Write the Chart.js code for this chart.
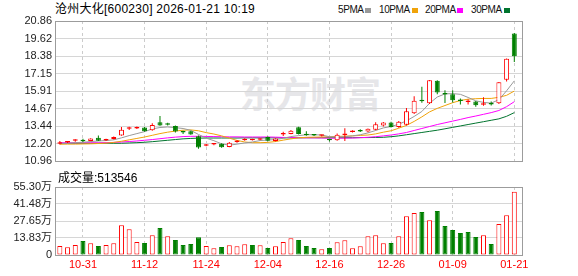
<!DOCTYPE html>
<html>
<head>
<meta charset="utf-8">
<script src="https://cdn.jsdelivr.net/npm/chart.js@4.4.1/dist/chart.umd.min.js"></script>
<style>
  html, body { margin: 0; padding: 0; background: #fff; }
  #wrap { position: relative; width: 578px; height: 276px; overflow: hidden;
          font-family: "Liberation Sans", "Noto Sans CJK SC", sans-serif; }
  .txt { position: absolute; white-space: nowrap; color: #000; }
  #title { left: 55px; top: 2px; font-size: 12px; line-height: 14px; letter-spacing: 0.25px; }
  .lg { position: absolute; top: 4px; font-size: 10px; line-height: 12px; color: #111; letter-spacing: -0.4px; }
  .sq { position: absolute; top: 8px; width: 6px; height: 5px; }
  #mark { left: 240px; top: 72px; font-size: 36px; line-height: 40px; font-weight: bold;
          color: #e6e6e9; font-family: "Noto Sans CJK SC", sans-serif; letter-spacing: -1px; }
  #volLabel { left: 58px; top: 171px; font-size: 12px; line-height: 14px; }
  canvas { position: absolute; left: 0; }
</style>
</head>
<body>
<div id="wrap">
  <div id="mark" class="txt">东方财富</div>
  <div id="title" class="txt">沧州大化[600230] 2026-01-21 10:19</div>
  <span class="lg" style="left:338px">5PMA</span><span class="sq" style="left:365px;background:#999999"></span>
  <span class="lg" style="left:379px">10PMA</span><span class="sq" style="left:412px;background:#f0a30a"></span>
  <span class="lg" style="left:425px">20PMA</span><span class="sq" style="left:457px;background:#ff00ff"></span>
  <span class="lg" style="left:471px">30PMA</span><span class="sq" style="left:504px;background:#00742e"></span>
  <canvas id="price" width="578" height="172" style="top:0"></canvas>
  <div id="volLabel" class="txt">成交量:513546</div>
  <canvas id="volume" width="578" height="104" style="top:172px"></canvas>
</div>
<script>
// trading days shown on the chart
const dates = ['10-28','10-29','10-30','10-31','11-03','11-04','11-05','11-06','11-07','11-10',
  '11-11','11-12','11-13','11-14','11-17','11-18','11-19','11-20','11-21','11-24',
  '11-25','11-26','11-27','11-28','12-01','12-02','12-03','12-04','12-05','12-08',
  '12-09','12-10','12-11','12-12','12-15','12-16','12-17','12-18','12-19','12-22',
  '12-23','12-24','12-25','12-26','12-29','12-30','12-31','01-05','01-06','01-07',
  '01-08','01-09','01-12','01-13','01-14','01-15','01-16','01-19','01-20','01-21'];
const dateLabels = ['10-31','11-12','11-24','12-04','12-16','12-26','01-09','01-21'];

const opens = [12.20,12.30,12.42,12.49,12.40,12.62,12.44,12.54,12.79,13.26,
  13.28,13.35,13.15,13.72,13.65,13.45,13.03,13.08,12.74,12.06,
  12.15,12.21,11.98,12.33,12.46,12.46,12.48,12.68,12.39,12.85,
  12.90,13.37,12.83,12.82,12.77,12.48,12.45,12.83,13.03,13.18,
  13.07,13.19,13.50,13.71,13.38,13.55,14.35,15.25,15.06,16.65,
  15.72,15.70,15.26,15.15,15.18,14.96,15.02,15.06,16.72,19.97];
const highs = [12.40,12.38,12.52,12.55,12.60,12.78,12.55,12.72,13.38,13.40,
  13.42,13.38,13.65,14.17,13.68,13.50,13.12,13.12,12.78,12.18,
  12.25,12.24,12.32,12.45,12.60,12.55,12.60,12.72,12.60,13.05,
  13.18,13.40,13.08,12.86,12.84,12.55,12.92,13.30,13.15,13.22,
  13.28,13.72,13.74,13.76,13.80,14.72,15.55,16.22,16.70,16.68,
  15.98,15.98,15.40,15.35,15.22,15.48,15.18,16.56,18.22,20.02];
const lows = [12.16,12.26,12.35,12.33,12.38,12.40,12.40,12.50,12.77,13.18,
  13.25,13.05,13.12,13.48,13.50,13.00,12.90,12.84,11.86,12.02,
  12.10,11.92,11.95,12.28,12.42,12.43,12.45,12.38,12.36,12.75,
  12.88,12.86,12.76,12.75,12.72,12.36,12.42,12.40,13.00,13.03,
  13.02,13.15,13.42,13.35,13.34,13.50,14.30,15.10,15.00,15.70,
  15.08,15.12,14.98,14.98,14.82,14.88,14.90,15.00,16.60,17.97];
const closes = [12.23,12.33,12.45,12.38,12.58,12.42,12.47,12.68,13.19,13.30,
  13.36,13.08,13.53,13.50,13.55,13.06,13.00,12.86,11.94,12.10,
  12.18,11.95,12.28,12.37,12.50,12.49,12.52,12.42,12.57,12.90,
  13.12,12.89,12.80,12.78,12.80,12.45,12.84,12.85,13.05,13.07,
  13.26,13.58,13.71,13.38,13.76,14.49,15.24,15.21,16.68,15.82,
  15.68,15.28,15.22,15.18,14.92,15.00,14.98,16.54,18.20,18.38];
const prevClose = 12.20;

const volumes = [73000,63000,81000,114000,95000,73000,81000,95000,241000,209000,
  106000,98000,160000,220000,152000,122000,81000,89000,144000,73000,
  54000,65000,79000,71000,87000,81000,79000,57000,71000,106000,
  136000,122000,73000,57000,46000,57000,103000,119000,54000,71000,
  152000,160000,95000,98000,152000,315000,342000,350000,282000,358000,
  236000,203000,179000,187000,146000,160000,89000,252000,323000,513546];

const ma5 = [12.22,12.24,12.28,12.31,12.36,12.40,12.43,12.48,12.62,12.78,
  12.92,13.06,13.25,13.35,13.39,13.34,13.28,13.15,12.86,12.60,
  12.42,12.20,12.10,12.18,12.26,12.33,12.43,12.47,12.50,12.59,
  12.71,12.78,12.84,12.84,12.82,12.70,12.68,12.70,12.76,12.84,
  12.97,13.14,13.32,13.42,13.58,13.82,14.13,14.48,15.06,15.50,
  15.72,15.74,15.69,15.47,15.23,15.12,15.07,15.31,15.94,16.64];
const ma10 = [12.17,12.18,12.18,12.19,12.20,12.22,12.25,12.30,12.38,12.48,
  12.58,12.68,12.80,12.92,13.02,13.10,13.16,13.18,13.12,12.99,
  12.89,12.76,12.60,12.44,12.33,12.28,12.28,12.30,12.36,12.46,
  12.55,12.62,12.66,12.67,12.68,12.70,12.72,12.74,12.76,12.79,
  12.82,12.90,13.02,13.12,13.30,13.50,13.78,14.10,14.45,14.70,
  14.90,15.10,15.25,15.35,15.38,15.40,15.40,15.48,15.62,15.92];
const ma20 = [12.27,12.27,12.27,12.27,12.27,12.27,12.28,12.30,12.33,12.36,
  12.40,12.45,12.50,12.56,12.62,12.67,12.71,12.73,12.73,12.72,
  12.71,12.70,12.69,12.69,12.68,12.68,12.68,12.68,12.67,12.65,
  12.64,12.63,12.62,12.62,12.61,12.60,12.60,12.60,12.61,12.63,
  12.66,12.70,12.76,12.82,12.90,13.00,13.14,13.28,13.42,13.56,
  13.68,13.80,13.92,14.05,14.16,14.28,14.40,14.55,14.82,15.17];
const ma30 = [12.24,12.24,12.24,12.24,12.24,12.24,12.24,12.24,12.24,12.26,
  12.28,12.31,12.35,12.40,12.45,12.50,12.55,12.58,12.60,12.61,
  12.61,12.61,12.61,12.61,12.62,12.62,12.62,12.62,12.62,12.62,
  12.62,12.62,12.63,12.63,12.63,12.63,12.63,12.63,12.63,12.64,
  12.64,12.65,12.66,12.70,12.76,12.84,12.92,13.00,13.08,13.16,
  13.26,13.36,13.46,13.56,13.66,13.76,13.86,13.96,14.14,14.40];

const priceTicks = [10.96, 12.20, 13.44, 14.67, 15.91, 17.15, 18.38, 19.62, 20.86];
const volTicks = [0, 138300, 276500, 414800, 553000];
const volTickLabels = ['0', '13.83万', '27.65万', '41.48万', '55.30万'];

const RED = '#ff0000';
const GREEN = '#008000';
const FONT = "'Liberation Sans', 'Noto Sans CJK SC', sans-serif";
const dateTickIdx = dateLabels.map(d => dates.indexOf(d));

const candleUp = closes.map((c, i) => c >= opens[i]);
const volUp = closes.map((c, i) => c >= (i === 0 ? prevClose : closes[i - 1]));

Chart.defaults.font.family = FONT;
Chart.defaults.animation = false;

const framePlugin = {
  id: 'frame',
  afterDatasetsDraw(chart) {
    const { ctx, chartArea: a } = chart;
    ctx.save();
    ctx.strokeStyle = '#9c9c9c';
    ctx.lineWidth = 1;
    const l = Math.floor(a.left) - 0.5, t = Math.floor(a.top) + 0.5;
    const r = Math.floor(a.right) + 0.5, b = Math.floor(a.bottom) + 0.5;
    ctx.strokeRect(l, t, r - l, b - t);
    ctx.restore();
  }
};

function xScale(showLabels) {
  return {
    type: 'linear', min: -0.5, max: 60, offset: false,
    afterBuildTicks: s => { s.ticks = dateTickIdx.map(v => ({ value: v })); },
    afterFit: s => { s.height = showLabels ? 21 : 0; },
    grid: { color: '#cccccc', drawTicks: false, offset: false },
    border: { display: false, dash: [3, 3] },
    ticks: {
      display: showLabels, autoSkip: false, maxRotation: 0, padding: 3,
      color: RED, font: { size: 11 },
      callback: v => dates[v]
    }
  };
}

// bars sit exactly on their x value, with a fixed pixel width
function barStyle(width) {
  return { grouped: false, barThickness: width, maxBarThickness: width,
           inflateAmount: 0, borderSkipped: false };
}

new Chart(document.getElementById('price'), {
  type: 'bar',
  data: {
    datasets: [
      Object.assign({
        label: 'body',
        data: opens.map((o, i) => ({ x: i, y: [o, closes[i]] })),
        backgroundColor: candleUp.map(u => u ? '#ffffff' : GREEN),
        borderColor: candleUp.map(u => u ? RED : GREEN),
        borderWidth: 1, minBarLength: 1.5
      }, barStyle(5)),
      Object.assign({
        label: 'wick',
        data: lows.map((l, i) => ({ x: i, y: [l, highs[i]] })),
        backgroundColor: candleUp.map(u => u ? RED : GREEN),
        borderWidth: 0, minBarLength: 1
      }, barStyle(1)),
      { type: 'line', label: '5PMA', data: ma5.map((v, i) => ({ x: i, y: v })),
        borderColor: '#999999', borderWidth: 1, pointRadius: 0 },
      { type: 'line', label: '10PMA', data: ma10.map((v, i) => ({ x: i, y: v })),
        borderColor: '#f0a30a', borderWidth: 1, pointRadius: 0 },
      { type: 'line', label: '20PMA', data: ma20.map((v, i) => ({ x: i, y: v })),
        borderColor: '#ff00ff', borderWidth: 1, pointRadius: 0 },
      { type: 'line', label: '30PMA', data: ma30.map((v, i) => ({ x: i, y: v })),
        borderColor: '#00742e', borderWidth: 1, pointRadius: 0 }
    ]
  },
  options: {
    responsive: false,
    layout: { padding: { top: 21, right: 56, bottom: 5.5, left: 0 } },
    plugins: { legend: { display: false }, tooltip: { enabled: false } },
    scales: {
      x: xScale(false),
      y: {
        min: 10.96, max: 20.86,
        afterBuildTicks: s => { s.ticks = priceTicks.map(v => ({ value: v })); },
        afterFit: s => { s.width = 56; },
        grid: { color: '#d6d6d6', drawTicks: false },
        border: { display: false },
        ticks: { autoSkip: false, padding: 4, color: '#222', font: { size: 11 },
                 callback: v => v.toFixed(2) }
      }
    }
  },
  plugins: [framePlugin]
});

new Chart(document.getElementById('volume'), {
  type: 'bar',
  data: {
    datasets: [
      Object.assign({
        label: 'volume',
        data: volumes.map((v, i) => ({ x: i, y: v })),
        backgroundColor: volUp.map(u => u ? '#ffffff' : GREEN),
        borderColor: volUp.map(u => u ? RED : GREEN),
        borderWidth: 1
      }, barStyle(5))
    ]
  },
  options: {
    responsive: false,
    layout: { padding: { top: 15, right: 56, bottom: 0, left: 0 } },
    plugins: { legend: { display: false }, tooltip: { enabled: false } },
    scales: {
      x: xScale(true),
      y: {
        min: 0, max: 553000,
        afterBuildTicks: s => { s.ticks = volTicks.map(v => ({ value: v })); },
        afterFit: s => { s.width = 56; },
        grid: { color: '#d6d6d6', drawTicks: false },
        border: { display: false },
        ticks: { autoSkip: false, padding: 4, color: '#222', font: { size: 11 },
                 callback: v => volTickLabels[volTicks.indexOf(v)] }
      }
    }
  },
  plugins: [framePlugin]
});
</script>
</body>
</html>
